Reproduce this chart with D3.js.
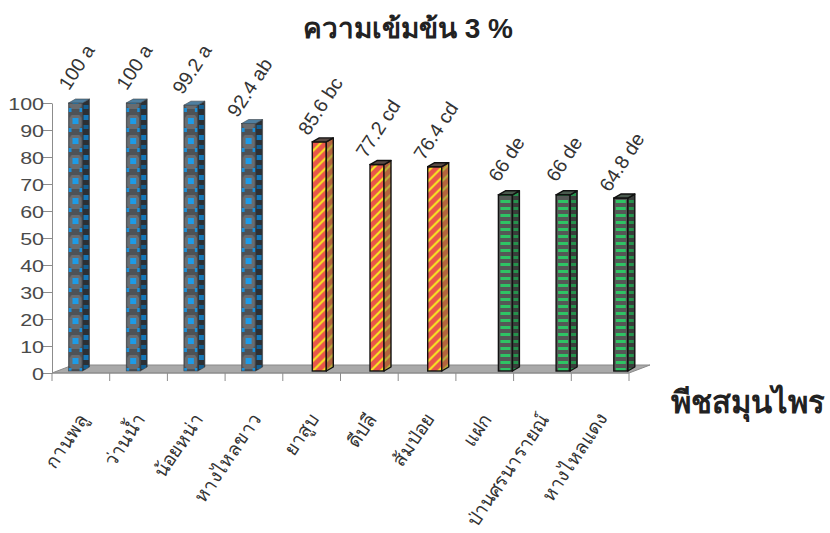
<!DOCTYPE html>
<html><head><meta charset="utf-8">
<script src="https://cdn.jsdelivr.net/npm/d3@7/dist/d3.min.js"></script>
<style>
html,body{margin:0;padding:0;background:#fff;}
text{font-family:"Liberation Sans",Arial,"Noto Sans",sans-serif;}
</style></head>
<body><svg id="c" width="830" height="533"></svg>
<script>
const categories = ["กานพลู","ว่านน้ำ","น้อยหน่า","หางไหลขาว","ยาสูบ","ดีปลี","ส้มป่อย","แฝก","ป่านศรนารายณ์","หางไหลแดง"];
const values = [100,100,99.2,92.4,85.6,77.2,76.4,66,66,64.8];
const letters = ["a","a","a","ab","bc","cd","cd","de","de","de"];
const groups = ["g1","g1","g1","g1","g2","g2","g2","g3","g3","g3"];
const seriesNames = ["g1","g2","g3"];
const yTicks = [0,10,20,30,40,50,60,70,80,90,100];
const titleText = "ความเข้มข้น 3 %";
const xTitle = "พีชสมุนไพร";

const svg = d3.select("#c");
const x = d3.scaleBand().domain(categories).range([52,629]);
const xs = d3.scaleBand().domain(seriesNames).range([16.5,55.5]);
const y = d3.scaleLinear().domain([0,100]).range([373,103]);
const DX = 21, DY = -8;
const FW = 14, SW = 7, TD = 4;
const data = categories.map((c,i)=>({c, v:values[i], l:letters[i], g:groups[i], i}));

const defs = svg.append("defs");
data.forEach(d=>{
  const fx = x(d.c)+xs(d.g);
  if(d.g==="g1"){
    const p = defs.append("pattern").attr("id","pf"+d.i).attr("patternUnits","userSpaceOnUse")
      .attr("x",fx).attr("y",y(0)).attr("width",FW).attr("height",20);
    p.append("rect").attr("width",FW).attr("height",20).attr("fill","#4e5256");
    p.append("path").attr("d","M3,2h8l2,3v8l-2,3h-8l-2,-3v-8z").attr("fill","#686c70");
    p.append("rect").attr("x",4).attr("y",5).attr("width",6).attr("height",6).attr("fill","#1e9be6");
    p.append("rect").attr("x",0).attr("y",15).attr("width",3).attr("height",4).attr("fill","#1a8fd8");
    p.append("rect").attr("x",11).attr("y",15).attr("width",3).attr("height",4).attr("fill","#1a8fd8");
    const s = defs.append("pattern").attr("id","ps"+d.i).attr("patternUnits","userSpaceOnUse")
      .attr("x",fx+FW).attr("y",y(0)).attr("width",SW).attr("height",20);
    s.append("rect").attr("width",SW).attr("height",20).attr("fill","#2c3034");
    s.append("rect").attr("x",1).attr("y",2).attr("width",5).attr("height",5).attr("fill","#1678b8");
    s.append("rect").attr("x",1).attr("y",12).attr("width",5).attr("height",4).attr("fill","#135f92");
  } else if(d.g==="g2"){
    const p = defs.append("pattern").attr("id","pf"+d.i).attr("patternUnits","userSpaceOnUse")
      .attr("x",fx).attr("y",y(0)).attr("width",10).attr("height",10);
    p.append("rect").attr("width",10).attr("height",10).attr("fill","#e8564a");
    p.append("path").attr("d","M0,7L7,0H10L0,10ZM7,10L10,7V10Z").attr("fill","#f6e423");
    const s = defs.append("pattern").attr("id","ps"+d.i).attr("patternUnits","userSpaceOnUse")
      .attr("x",fx+FW).attr("y",y(0)).attr("width",10).attr("height",10);
    s.append("rect").attr("width",10).attr("height",10).attr("fill","#b4643e");
    s.append("path").attr("d","M0,7L7,0H10L0,10ZM7,10L10,7V10Z").attr("fill","#b8ae3c");
  } else {
    const p = defs.append("pattern").attr("id","pf"+d.i).attr("patternUnits","userSpaceOnUse")
      .attr("x",fx).attr("y",y(0)).attr("width",FW).attr("height",7);
    p.append("rect").attr("width",FW).attr("height",7).attr("fill","#555856");
    p.append("rect").attr("x",2).attr("y",2).attr("width",10).attr("height",3).attr("fill","#2ec464");
    const s = defs.append("pattern").attr("id","ps"+d.i).attr("patternUnits","userSpaceOnUse")
      .attr("x",fx+FW).attr("y",y(0)).attr("width",SW).attr("height",7);
    s.append("rect").attr("width",SW).attr("height",7).attr("fill","#3a3d3b");
    s.append("rect").attr("x",1).attr("y",2).attr("width",5).attr("height",3).attr("fill","#25924c");
  }
});

// floor
const [x0,x1] = x.range();
svg.append("polygon")
  .attr("points",[[x0,y(0)],[x1,y(0)],[x1+DX,y(0)+DY],[x0+DX,y(0)+DY]].map(p=>p.join(",")).join(" "))
  .attr("fill","#a9a9a9").attr("stroke","#8a8a8a").attr("stroke-width",1);

// y axis
const ya = svg.append("g").attr("transform",`translate(${x0},0)`)
  .call(d3.axisLeft(y).tickValues(yTicks).tickSize(9).tickSizeOuter(0));
ya.select(".domain").attr("stroke","#8c8c8c");
ya.selectAll(".tick line").attr("stroke","#8c8c8c");
ya.selectAll(".tick text").attr("x",null).attr("dy",null)
  .attr("transform","translate(-8,6) scale(1.3,1)")
  .attr("font-size",16.5).attr("fill","#4a4a4a").attr("font-family","Liberation Sans, Arial, sans-serif");

// x axis
const xa = svg.append("g");
xa.append("line").attr("x1",x0).attr("x2",x1).attr("y1",y(0)).attr("y2",y(0)).attr("stroke","#8c8c8c");
xa.selectAll("line.t").data(categories.map(c=>x(c)).concat([x1])).join("line").attr("class","t")
  .attr("x1",d=>d).attr("x2",d=>d).attr("y1",y(0)).attr("y2",y(0)+8).attr("stroke","#8c8c8c");

// bars
const bars = svg.append("g").selectAll("g").data(data).join("g");
const yb = y(0)-2;
bars.each(function(d){
  const g = d3.select(this);
  const fx = x(d.c)+xs(d.g), ty = y(d.v);
  const stroke = d.g==="g1" ? "#3a3f44" : "#111";
  const sw = d.g==="g1" ? 0.6 : 1.4;
  g.append("rect").attr("x",fx).attr("y",ty).attr("width",FW).attr("height",yb-ty)
    .attr("fill",`url(#pf${d.i})`).attr("stroke",stroke).attr("stroke-width",sw);
  g.append("polygon").attr("points",[[fx+FW,ty],[fx+FW+SW,ty-TD],[fx+FW+SW,yb-TD],[fx+FW,yb]].map(p=>p.join(",")).join(" "))
    .attr("fill",`url(#ps${d.i})`).attr("stroke",stroke).attr("stroke-width",sw).attr("stroke-linejoin","round");
  g.append("polygon").attr("points",[[fx,ty],[fx+SW,ty-TD],[fx+FW+SW,ty-TD],[fx+FW,ty]].map(p=>p.join(",")).join(" "))
    .attr("fill", d.g==="g1" ? "#4f7fa0" : (d.g==="g2" ? "#5a4a44" : "#4a5a4e"))
    .attr("stroke",stroke).attr("stroke-width",sw).attr("stroke-linejoin","round");
  const cx = fx+FW/2+1, cy = ty-36;
  g.append("text").attr("transform",`translate(${cx},${cy}) rotate(-57)`)
    .attr("text-anchor","middle").attr("dy","0.35em")
    .attr("font-size",19.5).attr("fill","#333").text(`${d.v} ${d.l}`);
});

// category labels
svg.append("g").selectAll("text").data(categories).join("text")
  .attr("transform",c=>`translate(${x(c)+x.bandwidth()/2+8},${419}) rotate(-56)`)
  .attr("text-anchor","end").attr("font-size",19).attr("fill","#333").text(c=>c);

// titles
svg.append("text").attr("x",408).attr("y",38).attr("text-anchor","middle")
  .attr("font-size",28).attr("font-weight","bold").attr("fill","#222").text(titleText);
svg.append("text").attr("x",671).attr("y",413).attr("text-anchor","start")
  .attr("font-size",31).attr("font-weight","bold").attr("fill","#222").text(xTitle);
</script></body></html>
